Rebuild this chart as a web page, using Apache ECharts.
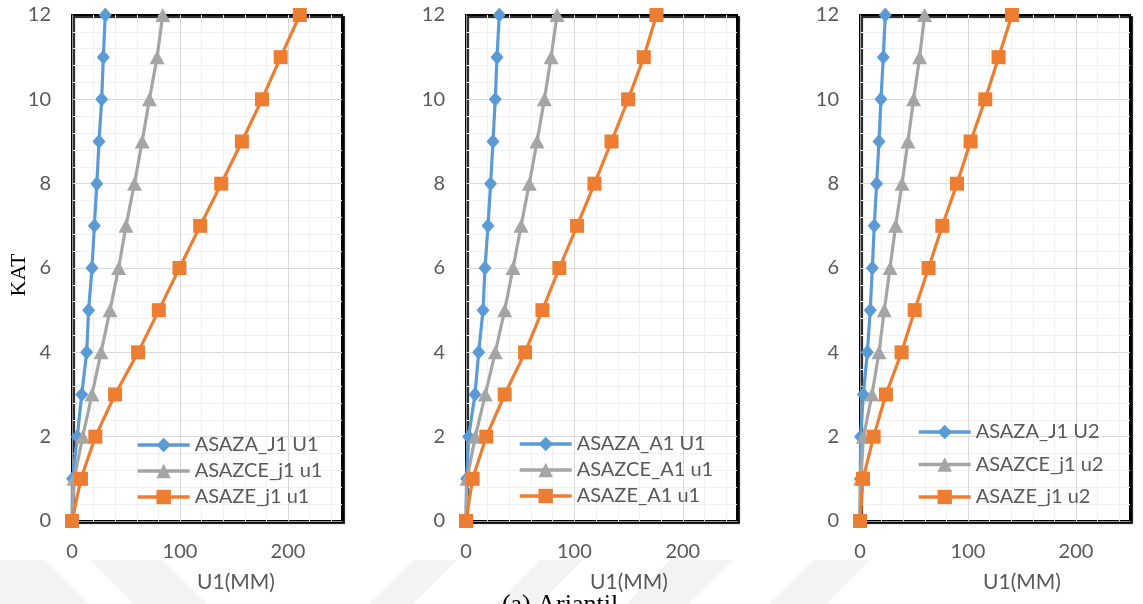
<!DOCTYPE html>
<html>
<head>
<meta charset="utf-8">
<style>
  html, body { margin: 0; padding: 0; background: #ffffff; }
  #chart { width: 1143px; height: 604px; }
</style>
<script src="https://cdn.jsdelivr.net/npm/echarts@6/dist/echarts.min.js"></script>
</head>
<body>
<div id="chart"></div>
<script>
// ---- data ----
const levels = [0, 1, 2, 3, 4, 5, 6, 7, 8, 9, 10, 11, 12];

const names1 = ['ASAZA_J1 U1', 'ASAZCE_j1 u1', 'ASAZE_j1 u1'];
const blue1   = [0, 0.5, 4.9, 9, 13.6, 15.4, 18.5, 20.7, 23, 25, 27.5, 29, 30.8];
const gray1   = [0, 2, 9.9, 18.5, 26.9, 35.2, 43.2, 50, 57.8, 65, 71.7, 78.8, 84];
const orange1 = [0, 8.3, 21.6, 39.9, 61.2, 80.4, 99.5, 118.7, 138.2, 157.3, 175.9, 193.2, 210.9];

const names2 = ['ASAZA_A1 U1', 'ASAZCE_A1 u1', 'ASAZE_A1 u1'];
const blue2   = [0, 0.5, 2.4, 8.3, 11.7, 15.7, 17.5, 20.3, 22.7, 24.9, 27, 28.6, 30.7];
const gray2   = [0, 1, 8.6, 17.8, 27, 35.7, 43.4, 50.8, 58.4, 65.5, 72.3, 78.5, 84];
const orange2 = [0, 6.1, 18.7, 35.7, 54.5, 70.5, 86.1, 102.5, 118.5, 134.2, 149.6, 164, 175.7];

const names3 = ['ASAZA_J1 U2', 'ASAZCE_j1 u2', 'ASAZE_j1 u2'];
const blue3   = [0, 0.3, 0.5, 3.1, 6.8, 9.5, 11.4, 13.2, 15.4, 17.6, 19.4, 21.6, 23.4];
const gray3   = [0, 0.5, 3.3, 11.1, 17.6, 22.5, 27.8, 33, 38.9, 44.4, 49.6, 55.2, 59.8];
const orange3 = [0, 2.8, 12.6, 24, 38.5, 50.6, 63.5, 76.2, 89.8, 102.4, 116, 128.3, 140.7];

const xMin = 0, xMax = 250, xLabelStep = 100, xMinorStep = 20;
const yMin = 0, yMax = 12, yLabelStep = 2, yMinorStep = 0.4;

const xAxisName = 'U1(MM)';
const yAxisName = 'KAT';
const caption = '(a) Ariantil';

// ---- styling ----
const COLORS = ['#5B9BD5', '#A5A5A5', '#ED7D31'];
const SYMBOLS = ['diamond', 'triangle', 'rect'];
const SYMBOL_SIZES = [[13, 15], [15, 14], 14];
const MAJOR = '#d9d9d9', MINOR = '#f0f0f0';
const LABEL_COLOR = '#595959';
const FONT = 'Lato, "Open Sans", sans-serif';

const panels = [
  { names: names1, values: [blue1, gray1, orange1], left: 72, width: 270, legendLeft: 136, legendTop: 435, legendGap: 8, nameX: 236 },
  { names: names2, values: [blue2, gray2, orange2], left: 466, width: 271, legendLeft: 518, legendTop: 434, legendGap: 8, nameX: 629 },
  { names: names3, values: [blue3, gray3, orange3], left: 860, width: 270, legendLeft: 917, legendTop: 422, legendGap: 14.5, nameX: 1022 }
];

const grids = [], xAxes = [], yAxes = [], series = [], legends = [], graphics = [];

const near = (v, step) => Math.abs(v / step - Math.round(v / step)) < 1e-6;

panels.forEach((p, i) => {
  grids.push({
    left: p.left, top: 15, width: p.width, height: 506,
    show: true, backgroundColor: '#ffffff',
    borderColor: '#000000', borderWidth: 2,
    shadowColor: 'rgba(0,0,0,0.9)', shadowBlur: 1, shadowOffsetX: 2, shadowOffsetY: 2
  });
  xAxes.push({
    gridIndex: i, type: 'value', min: xMin, max: xMax, interval: xMinorStep,
    axisLine: { show: true, lineStyle: { color: '#9a9a9a', width: 1 } },
    axisTick: { show: false },
    axisLabel: {
      margin: 21, color: LABEL_COLOR, fontSize: 20, fontFamily: FONT,
      formatter: v => near(v, xLabelStep) ? String(Math.round(v)) : ''
    },
    splitLine: { show: true, showMaxLine: false, lineStyle: { color: [MAJOR, MINOR, MINOR, MINOR, MINOR], width: 1 } }
  });
  yAxes.push({
    gridIndex: i, type: 'value', min: yMin, max: yMax, interval: yMinorStep,
    axisLine: { show: true, lineStyle: { color: '#9a9a9a', width: 1 } },
    axisTick: { show: false },
    axisLabel: {
      margin: 21, color: LABEL_COLOR, fontSize: 20, fontFamily: FONT,
      formatter: v => near(v, yLabelStep) ? String(Math.round(v)) : ''
    },
    splitLine: { show: true, showMaxLine: false, lineStyle: { color: [MAJOR, MINOR, MINOR, MINOR, MINOR], width: 1 } }
  });
  p.values.forEach((vals, k) => {
    series.push({
      name: p.names[k], type: 'line', xAxisIndex: i, yAxisIndex: i,
      data: vals.map((v, j) => [v, levels[j]]),
      symbol: SYMBOLS[k], symbolSize: SYMBOL_SIZES[k],
      lineStyle: { color: COLORS[k], width: 3.2 },
      itemStyle: { color: COLORS[k] },
      clip: false, animation: false, z: 2 + k
    });
  });
  legends.push({
    data: p.names, orient: 'vertical', left: p.legendLeft, top: p.legendTop,
    itemWidth: 52, itemHeight: 18, itemGap: p.legendGap - 2, padding: 0,
    lineStyle: { width: 3.4 },
    textStyle: { color: LABEL_COLOR, fontSize: 20, fontFamily: FONT, lineHeight: 20 },
    selectedMode: false
  });
  graphics.push({
    type: 'text', position: [p.nameX, 582],
    style: { text: xAxisName, fill: LABEL_COLOR, font: '21px ' + FONT, textAlign: 'center', textVerticalAlign: 'middle' }
  });
});

graphics.push({
  type: 'text', rotation: Math.PI / 2, position: [19, 275],
  style: { text: yAxisName, fill: '#000000', font: '22px "Liberation Serif", "Times New Roman", serif', textAlign: 'center', textVerticalAlign: 'middle' }
});
graphics.push({
  type: 'text', position: [560, 592],
  style: { text: caption, fill: '#000000', font: '26px "Liberation Serif", "Times New Roman", serif', textAlign: 'center', textVerticalAlign: 'top' }
});

// faint watermark bands at the bottom
const bands = [
  [[0, 560], [45, 560], [89, 604], [0, 604]],
  [[90, 560], [163, 560], [207, 604], [134, 604]],
  [[413, 560], [457, 560], [413, 604], [369, 604]],
  [[540, 560], [583, 560], [539, 604], [496, 604]],
  [[670, 560], [733, 560], [689, 604], [626, 604]],
  [[813, 560], [870, 560], [826, 604], [769, 604]]
];
bands.forEach(pts => graphics.push({
  type: 'polygon', z: -10, silent: true,
  shape: { points: pts }, style: { fill: '#f3f3f3' }
}));

const chart = echarts.init(document.getElementById('chart'), null, { renderer: 'canvas' });
chart.setOption({
  backgroundColor: '#ffffff',
  animation: false,
  grid: grids, xAxis: xAxes, yAxis: yAxes,
  legend: legends, series: series, graphic: graphics
});
</script>
</body>
</html>
